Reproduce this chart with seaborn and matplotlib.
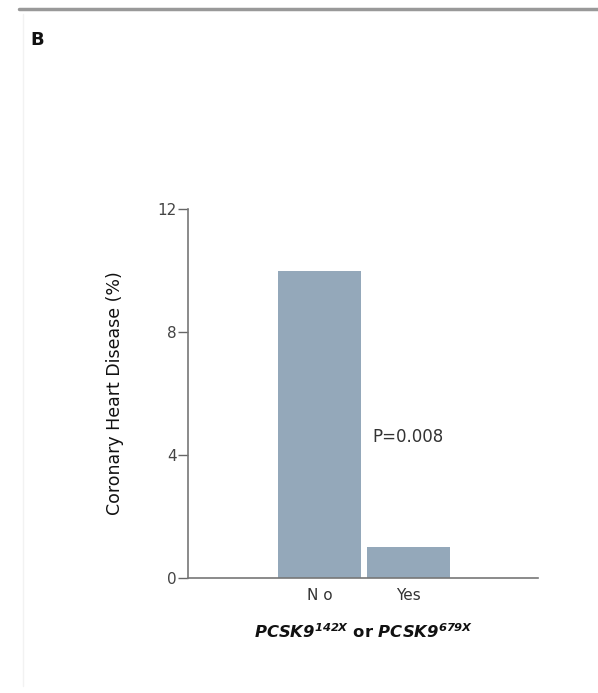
import numpy as np
import pandas as pd
import matplotlib
matplotlib.use("Agg")
import matplotlib.pyplot as plt
import seaborn as sns

# data
carrier = ["No", "Yes"]
chd_pct = [10.0, 1.0]
y_ticks = [0, 4, 8, 12]
p_text = "P=0.008"

sns.set_style("white")
plt.rcParams["mathtext.fontset"] = "dejavusans"

df = pd.DataFrame({"carrier": carrier, "chd": chd_pct})

fig = plt.figure(figsize=(5.98, 6.93), dpi=100)
ax = fig.add_axes([0.3144, 0.1659, 0.5853, 0.5325])

sns.barplot(data=df, x="carrier", y="chd", color="#94a8ba", saturation=1,
            width=0.93, ax=ax, edgecolor="none")

ax.set_xlim(-1.478, 2.455)
ax.set_ylim(0, 12)
ax.set_yticks(y_ticks)
ax.set_yticklabels([str(t) for t in y_ticks], fontsize=11, color="#444444")
ax.set_xticks([0, 1])
ax.set_xticklabels(["N o", "Yes"], fontsize=11, color="#333333")

ax.tick_params(axis="y", direction="out", length=7, width=1, color="#666666", pad=1, left=True)
ax.tick_params(axis="x", length=0, pad=7)

for s in ["top", "right"]:
    ax.spines[s].set_visible(False)
for s in ["left", "bottom"]:
    ax.spines[s].set_color("#777777")
    ax.spines[s].set_linewidth(1.2)

ax.set_ylabel("Coronary Heart Disease (%)", fontsize=12.5, color="#111111", labelpad=24)
ax.set_xlabel(r"$\mathbfit{PCSK9}^{\mathbfit{142X}}$ or $\mathbfit{PCSK9}^{\mathbfit{679X}}$",
              fontsize=11.8, fontweight="bold", color="#111111", labelpad=14)

ax.text(0.59, 4.6, p_text, fontsize=12, color="#333333", ha="left", va="center")

# panel letter and top rule
fig.text(0.050, 0.942, "B", fontsize=13, fontweight="bold", color="#111111", va="center")
fig.add_artist(plt.Line2D([0.032, 1.0], [0.987, 0.987], color="#999999", lw=2.5))
fig.add_artist(plt.Line2D([0.038, 0.038], [0.01, 0.98], color="#f2f2f2", lw=1))

fig.savefig("out.png", dpi=100)
